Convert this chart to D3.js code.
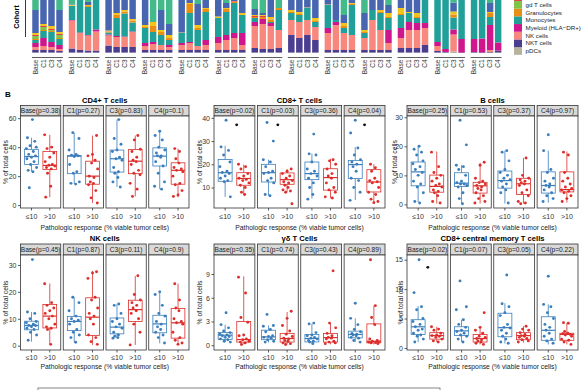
<!DOCTYPE html>
<html>
<head>
<meta charset="utf-8">
<script src="https://cdn.jsdelivr.net/npm/d3@7"></script>
<style>
  body { margin: 0; background: #fff; }
  svg { display: block; font-family: "Liberation Sans", Arial, sans-serif; }
</style>
</head>
<body>
<script>
// ---------- panel A : cell composition per patient / time point ----------
const timepoints = ["Base", "C1", "C3", "C4"];
const patients = ["P01","P02","P03","P04","P05","P06","P07","P08","P09","P10","P11","P12","P13"];
// stacked bottom -> top
const cellTypes = ["pDCs","NKT cells","NK cells","Myeloid (HLA\u2212DR+)","Monocytes","Granulocytes","gd T cells","DCs","CD8+ T cells","CD4+ T cells","B cells"];
const cellColors = ["#b5b39c","#4b3d8f","#f8877e","#cf168c","#21a09a","#e88e16","#7fc447","#e43b4c","#f1c31b","#4866b0","#43ba8a"];

// % per bar, 13 patients x (Base, C1, C3, C4)
const pDCs   = [.5,.5,.5,.5, .5,.5,.5,.5, .5,.5,.5,.5, .5,.5,.5,.5, .5,.5,.5,.5, .5,.5,.5,.5, .5,.5,.5,.5, .5,.5,.5,.5, .5,.5,.5,.5, .5,.5,.5,.5, .5,.5,.5,.5, .5,.5,1.5,0, .5,0,.5,.5];
const nkt    = [2.5,2.5,2.5,1.5, 4,2.5,2,2, 7,5.5,5.5,5.5, 2.5,2.5,2.5,2.5, 2.5,2.5,2.5,2.5, 2.5,2.5,2.5,2.5, 4.5,3.5,3.5,4.5, 17.5,14.5,17.5,12.5, 2.5,2.5,2.5,2.5, 2.5,2.5,2.5,2.5, 4.5,4.5,4.5,7.5, 1.5,.5,0,.5, .5,.5,.5,2];
const nk     = [3,4,3,2, 28,17,15,19, 10,10,10,15, 4,6,5,3, 5,7,4,5, 7,10,12,5, 22,25,23,18, 15,16,15,13, 17,25,17,15, 12,30,20,7, 10,18,18,17, 5,0,17,0, 0,0,2,0];
const myeloid= [4,8,5,4, .5,.5,.5,2, 1,1,.5,.5, 3,2,0,2, 2,1,0,5, 6,5,5,12, 4,5,3,0, 0,0,0,0, 5,3,0,0, 0,0,0,13, 10,8,7,5, 4,3,5,13.5, 13,14,25,8];
const mono   = [3,7,10,6, 14,45,28,40, 2,18,23,9, 15,10,10,5, 10,29,16,28, 19,23,30,18, 4,0,1,20, 7,7,12,5, 23,2,5,30, 5,10,17,12, 13,9,5,35, 60,70,12,60, 60,60,8,60];
const gran   = [1,1,1,1, .5,0,1,0, .5,3,2,2, 1,6,3,2, 0,9,2,3, 0,3,1.5,0, 1,2,2,2, 1,1,0,1, 0,0,2,1.5, 1,0,1,1, 1,0,1,0, 0,0,3,0, 0,0,4,0];
const gdT    = [3,3,1,3, 0,0,0,0, 0,0,0,0, 0,0,0,0, 0,0,0,0, 0,0,0,0, 0,0,0,0, 0,0,0,0, 0,0,0,0, 0,0,0,0, 0,0,0,0, 0,0,0,0, 0,0,0,0];
const dcs    = [1,1,1,1, 0,0,0,0, .5,0,0,0, 0,0,0,0, 0,0,0,0, 0,0,.5,0, 1,1,.5,0, 0,0,0,0, 0,0,0,0, 0,0,0,0, 0,0,0,0, 0,0,0,0, 0,0,0,0];
const cd8    = [2,2,3,2, .5,0,1,0, 1,2,1.5,1.5, 2,4,2,3, .5,1,3,1, 1.5,1,0,2, 1,1,2.5,0, 2,2,.5,3, .5,0,3,.5, 2,0,2,4, 6,1,4,0, 0,0,3,0, 0,0,1,0];
const cd4    = [23,30,35,22, .5,10,3,15, 40,30,30,30, 35,0,20,11, 45,20,21,20, 30,5,20,25, 6,2,30,0, 25,25,25,30, 20,35,8,20, 17,25,25,8, 25,25,25,10, 5,5,9,5, 5,5,9,5];
const bcells = [57,41,38,57, 51.5,24.5,49,21.5, 37.5,30,27,36, 37,69,57,71, 34.5,30,51,35, 33.5,50,28,35, 56,60,34,55, 32,34,29.5,35, 31.5,32,62,30, 60,32,32,52, 30,34,35,25, 24,21,49.5,21, 21,20.5,50,24.5];
const compSeries = [pDCs, nkt, nk, myeloid, mono, gran, gdT, dcs, cd8, cd4, bcells];

// ---------- panel B : boxplots [lo, q1, median, q3, hi] ----------
// order: Base<=10, Base>10, C1<=10, C1>10, C3<=10, C3>10, C4<=10, C4>10
const responseGroups = ["\u226410", ">10"];

const cd4Box = [[23,28,33.5,38.5,46.5],[5.5,24.6,27.4,37,48.5],[14.5,21.7,33.8,34.2,50],[1.5,14.4,20,30.3,48],
                [12.5,22.8,32,38,59],[6,21.7,30.3,38.3,48],[11,27,33.8,39.5,51],[5.5,14.4,24,29.2,39]];
const cd4Pts = [[59,46.5,44,41,40,39,37,35,34,33,32,30,28,26,24,23,12],[48.5,40,39,36,33,30,28,27.5,27,26,25,22,13,5.5],
                [50,46,38,35,34.5,34,33.5,28,23,22,16,15,14.5],[48,35,34,31,29,25,20,19,16,15,14,10,5,1.5],
                [59,46,42,38,37,33,32,31,26,23,22,19,16,12.5],[48,45,38.5,37,33,31,30,28,24,22,21,15,11,6],
                [51,48,45,40,38,36,34,34,33,30,27,22,16,13,11],[39,37,32,29,26,25,24,23,20,15,14,10,7,6]];
const cd4P = ["Base(p=0.38)","C1(p=0.27)","C3(p=0.83)","C4(p=0.1)"];

const cd8Box = [[6,12.7,16.4,22.1,28],[6.7,11,13.9,16.4,19.9],[6.5,12.4,16.4,20,22],[8,11.4,13.4,16.3,18],
                [5.3,13.4,16,21,24.6],[5.3,8.9,14.3,18.1,22.4],[4.6,13.9,19.9,21.7,27.4],[3.1,8.1,12.4,17.7,20]];
const cd8Pts = [[39,27.5,26,24,21,19,17,16.5,16,15,14,13,12.5,6],[20,19,18,16,15,14,13.5,13,12,11,10,8,7],
                [38,30,22,21,19,17,16.5,16,14,13,12,7,6.5],[18,17,16,15,14,13,12.5,12,11,10,9,8.5,8,3],
                [33,24.5,24,21,18,17,16,15,14,12,10,7,5],[22,21.5,20,18,16,15,14,12,10,9,8,6,5.5],
                [39,33.5,27,24,22,21,20,19,17,14,13,10,8,4.5],[20,18.5,17,14,13,12.5,12,10,8,7,5,4,3.5]];
const cd8P = ["Base(p=0.02)","C1(p=0.03)","C3(p=0.36)","C4(p=0.04)"];
const cd8Black = [[0,37,1.62],[1,37,1.5],[3,37,1.5]]; // [time, value, x]

const bBox = [[0.8,6.4,11.2,14.6,19.9],[0.3,4.2,6.2,10.1,18.2],[0.3,6.2,7.3,10.9,13.5],[0.3,3.9,6.4,7.6,14.3],
              [0.3,5.6,8.2,11.5,18.5],[0.3,3.4,7.1,9,16],[0.6,3.9,6.5,11.2,18.5],[0.6,4.3,5.1,11.2,18.2]];
const bPts = [[20,19,18,17,15,14,13,12,11,10,8,7,6,4,1,0.5],[18,13,11,10,9,8,7,6.5,6,5,4.5,4,3,1,0.5],
              [29,20.5,13.5,13,12,10,8,7.5,7,7,6.5,6,4,2,0.2],[14.5,13.5,9,8,7.5,7,6.5,6,5.5,5,4,3,2,1,0.5],
              [18.5,18,15,12,11,10,9,8.5,8,7,6,5,4,0.5],[16,10,9,8.5,8,7.5,7,6.5,5,4,3,1,0.5,0.2],
              [24,18.5,12,11,9,8,7,6.5,6,5,4,3,2,1],[18,17,11,9,8,7,6,5.5,5,4.5,4,3,2,1]];
const bP = ["Base(p=0.25)","C1(p=0.53)","C3(p=0.37)","C4(p=0.97)"];

const nkBox = [[1.5,5.9,7.5,9.1,12.5],[0.6,6.6,11,15.3,23.1],[1.3,5.6,9,10.9,18.1],[0.3,3.8,10.6,17.8,27.8],
               [2.8,4.4,6.9,10.3,15.6],[0.3,9,13.4,16.9,25.9],[0.9,4.8,8.1,11.3,20.4],[0.6,2.8,8.5,13.8,23.1]];
const nkPts = [[32,12.5,12,10,9,8.5,8,7.5,7.5,7,6.5,6,5,4,2],[23,16,15,14,13,12,11,10,8,7,6.5,6,0.5],
               [18,16,13,11,10,9.5,9,8,6,5,4,3,1.3],[27.5,27,25,18,17,14,12,11,10,8,4,3,1.5,0.5],
               [15.5,15,12,10,9,8,7,6.5,5,4,3.5,3,2.8],[26,19,17,16,15,14,13,12,10,8,5,0.3],
               [20,19,15,12,11,9,8,7,6,5,4,3,1],[23,17,14,13,10,9,8.5,8,5,3,2,1,0.5]];
const nkP = ["Base(p=0.45)","C1(p=0.87)","C3(p=0.11)","C4(p=0.9)"];

const gdBox = [[0.4,0.72,1.27,1.6,2.6],[0.1,0.4,0.72,3,8.7],[0.35,0.7,1.06,1.9,2.5],[0.1,0.4,0.85,1.5,4.2],
               [0.2,0.42,0.85,1.35,2.7],[0.1,0.4,0.97,1.5,2.75],[0.4,0.93,1.36,1.78,3.4],[0.1,0.3,0.5,2.7,5]];
const gdPts = [[4.1,2.6,2.2,1.8,1.6,1.4,1.3,1.2,1.1,1,0.8,0.7,0.5,0.4],[8.6,6.6,3.5,2.9,1.3,1.2,0.8,0.7,0.5,0.4,0.3,0.1],
               [3.9,2.5,2.4,2,1.7,1.2,1.1,1,0.9,0.7,0.5,0.4],[4.3,3.4,2.5,1.8,1.4,1.1,0.9,0.8,0.6,0.5,0.3,0.2,0.1],
               [2.8,2.7,1.6,1.3,1.2,1,0.9,0.8,0.6,0.5,0.4,0.2],[9.4,2.8,2.2,1.5,1.2,1,0.9,0.8,0.5,0.4,0.3,0.2],
               [5.3,3.4,2.6,2,1.7,1.5,1.4,1.3,1.2,1,0.9,0.6,0.4],[10.8,5,3.5,2.6,0.8,0.6,0.5,0.45,0.4,0.35,0.3,0.2]];
const gdP = ["Base(p=0.35)","C1(p=0.74)","C3(p=0.43)","C4(p=0.89)"];

const cmBox = [[1,2.3,3.6,4.8,7.1],[1,1.5,2.1,2.6,3.6],[1,2.1,2.9,3.6,4.8],[0.6,1,1.6,2.3,3.6],
               [0.75,1.9,3.45,5.9,7.6],[0.9,1.4,2.1,2.6,3.7],[0.6,1.3,3,5.3,7.4],[0.6,1.3,2.3,2.5,4.2]];
const cmPts = [[15,9.4,7,6.5,5,4.5,4,3.6,3.2,3,2.5,2.2,2,1.5,1],[3.6,3.2,3,2.5,2.2,2.1,2,1.8,1.5,1.2,1],
               [11.4,7,6.5,4.8,4,3.5,3,2.8,2.5,2.2,2,1.5,1],[6,3.5,3,2.5,2,1.8,1.6,1.4,1.2,1,0.8,0.6],
               [12.4,7.5,7,6,5.5,4,3.5,3.4,3,2.5,2,1.5,1,0.8],[3.7,3.2,3,2.6,2.3,2.1,2,1.8,1.6,1.4,1.2,1],
               [12.2,7.4,7,6,5,4,3.5,3,2.5,2,1.5,1.2,0.8],[4.3,4.2,2.8,2.5,2.4,2.3,2.2,2,1.5,1.3,1,0.6]];
const cmP = ["Base(p=0.02)","C1(p=0.07)","C3(p=0.05)","C4(p=0.22)"];
const cmBlack = [[0,13.7,1.52]];

// ---------------------------------------------------------------
const width = 585, height = 390;
const svg = d3.select("body").append("svg")
  .attr("width", width).attr("height", height);

// ---- A: stacked bars ----
const rows = [];
patients.forEach((p, pi) => timepoints.forEach((t, ti) => {
  const r = { patient: p, time: t };
  cellTypes.forEach((c, ci) => r[c] = compSeries[ci][pi * 4 + ti]);
  rows.push(r);
}));
const stacked = d3.stack().keys(cellTypes)(rows);

const xPat = d3.scaleBand().domain(patients).range([32, 501.6]).paddingInner(0.152);
const xTime = d3.scaleBand().domain(timepoints).range([0, xPat.bandwidth()]).paddingInner(0.19).paddingOuter(0.03);
const yComp = d3.scaleLinear().domain([0, 100]).range([53, -47]);
const colorComp = d3.scaleOrdinal().domain(cellTypes).range(cellColors);

const gA = svg.append("g");
gA.selectAll("g.layer").data(stacked).join("g")
  .attr("fill", d => colorComp(d.key))
  .selectAll("rect").data(d => d).join("rect")
  .attr("x", d => xPat(d.data.patient) + xTime(d.data.time))
  .attr("width", xTime.bandwidth())
  .attr("y", d => yComp(d[1]))
  .attr("height", d => yComp(d[0]) - yComp(d[1]));

// per patient axis line + labels
patients.forEach(p => {
  const g = gA.append("g").attr("transform", `translate(${xPat(p)},0)`);
  g.append("line").attr("x1", 0).attr("x2", xPat.bandwidth())
    .attr("y1", 57.5).attr("y2", 57.5).attr("stroke", "#333").attr("stroke-width", 0.8);
  timepoints.forEach(t => {
    const cx = xTime(t) + xTime.bandwidth() / 2;
    g.append("text")
      .attr("transform", `translate(${cx},59.5) rotate(-90)`)
      .attr("text-anchor", "end").attr("dy", "0.35em")
      .attr("font-size", 6.5).attr("fill", "#333").text(t);
  });
});

// cohort label
gA.append("text").attr("transform", "translate(19,17) rotate(-90)")
  .attr("text-anchor", "middle").attr("font-size", 7.2).attr("font-weight", "bold").text("Cohort");
gA.append("line").attr("x1", 25.5).attr("x2", 25.5).attr("y1", -2).attr("y2", 37)
  .attr("stroke", "#222").attr("stroke-width", 0.9);

// legend (the upper keys fall outside the frame, as in the cropped figure)
const legend = gA.append("g");
cellTypes.forEach((c, k) => {
  const yc = 51 - k * 7.7;
  legend.append("rect").attr("x", 514).attr("y", yc - 3.85).attr("width", 8).attr("height", 7.7)
    .attr("fill", colorComp(c));
  if (yc > 2) {
    legend.append("text").attr("x", 525.5).attr("y", yc).attr("dy", "0.35em")
      .attr("font-size", 6.2).attr("fill", "#222").text(c);
  }
});

// ---- B ----
svg.append("text").attr("x", 5).attr("y", 97).attr("font-size", 8).attr("font-weight", "bold").text("B");

const rowLayout = [
  { titleY: 103, stripTop: 105.5, stripH: 10.5, top: 116, bot: 208, tickY: 217, axisY: 228 },
  { titleY: 240.5, stripTop: 244, stripH: 11, top: 255, bot: 350, tickY: 357.5, axisY: 366.5 }
];

const facets = [
  { title: "CD4+ T cells", box: cd4Box, pts: cd4Pts, strips: cd4P, dom: [-2, 61.5], ticks: [0, 20, 40, 60], L: 20.5, R: 189, row: 0, tx: 6, black: [] },
  { title: "CD8+ T cells", box: cd8Box, pts: cd8Pts, strips: cd8P, dom: [1.2, 40.8], ticks: [10, 20, 30, 40], L: 214, R: 385, row: 0, tx: 200, black: cd8Black },
  { title: "B cells", box: bBox, pts: bPts, strips: bP, dom: [-1.24, 30.44], ticks: [0, 10, 20, 30], L: 407, R: 578, row: 0, tx: 395, black: [] },
  { title: "NK cells", box: nkBox, pts: nkPts, strips: nkP, dom: [-1.6, 33.7], ticks: [0, 10, 20, 30], L: 20.5, R: 189, row: 1, tx: 6, black: [] },
  { title: "\u03b3\u03b4 T Cells", box: gdBox, pts: gdPts, strips: gdP, dom: [-0.6, 11.4], ticks: [0, 3, 6, 9], L: 214, R: 385, row: 1, tx: 200, black: [] },
  { title: "CD8+ central memory T cells", box: cmBox, pts: cmPts, strips: cmP, dom: [-0.35, 15.8], ticks: [0, 5, 10, 15], L: 407, R: 578, row: 1, tx: 401, black: cmBlack }
];

const groupColors = ["#3b7ebb", "#dc2f2c"];
const jit = [0.05, -0.22, 0.18, -0.08, 0.26, -0.28, 0.1, -0.15, 0.22, 0, -0.25, 0.14, -0.05, 0.28, -0.18, 0.08, -0.12];
const gap = 2.5;

facets.forEach(f => {
  const lay = rowLayout[f.row];
  const g = svg.append("g");
  const pw = (f.R - f.L - 3 * gap) / 4;
  const y = d3.scaleLinear().domain(f.dom).range([lay.bot, lay.top]);

  g.append("text").attr("x", (f.L + f.R) / 2).attr("y", lay.titleY)
    .attr("text-anchor", "middle").attr("font-size", 7.6).attr("font-weight", "bold").text(f.title);

  timepoints.forEach((t, ti) => {
    const px = f.L + ti * (pw + gap);
    const x = d3.scaleLinear().domain([0.4, 2.6]).range([px, px + pw]);
    const unit = pw / 2.2;

    // strip
    g.append("rect").attr("x", px).attr("y", lay.stripTop).attr("width", pw).attr("height", lay.stripH)
      .attr("fill", "#d9d9d9").attr("stroke", "#333").attr("stroke-width", 0.8);
    g.append("text").attr("x", px + pw / 2).attr("y", lay.stripTop + lay.stripH / 2).attr("dy", "0.35em")
      .attr("text-anchor", "middle").attr("font-size", 6.6).attr("fill", "#1a1a1a").text(f.strips[ti]);

    // panel
    g.append("rect").attr("x", px).attr("y", lay.top).attr("width", pw).attr("height", lay.bot - lay.top)
      .attr("fill", "#fff").attr("stroke", "#333").attr("stroke-width", 0.8);

    responseGroups.forEach((rg, gi) => {
      const k = ti * 2 + gi;
      const [lo, q1, med, q3, hi] = f.box[k];
      const cx = x(gi + 1);
      const bw = 0.75 * unit;
      const col = groupColors[gi];
      g.append("line").attr("x1", cx).attr("x2", cx).attr("y1", y(hi)).attr("y2", y(q3))
        .attr("stroke", col).attr("stroke-width", 0.8);
      g.append("line").attr("x1", cx).attr("x2", cx).attr("y1", y(q1)).attr("y2", y(lo))
        .attr("stroke", col).attr("stroke-width", 0.8);
      g.append("rect").attr("x", cx - bw / 2).attr("y", y(q3)).attr("width", bw).attr("height", y(q1) - y(q3))
        .attr("fill", "none").attr("stroke", col).attr("stroke-width", 0.8);
      g.append("line").attr("x1", cx - bw / 2).attr("x2", cx + bw / 2).attr("y1", y(med)).attr("y2", y(med))
        .attr("stroke", col).attr("stroke-width", 1.2);
      g.selectAll(null).data(f.pts[k]).join("circle")
        .attr("cx", (d, i) => cx + jit[(i + gi * 5 + ti * 3) % jit.length] * unit)
        .attr("cy", d => y(d)).attr("r", 1.45).attr("fill", col);

      // x tick + label
      g.append("line").attr("x1", cx).attr("x2", cx).attr("y1", lay.bot).attr("y2", lay.bot + 2.5)
        .attr("stroke", "#333").attr("stroke-width", 0.8);
      g.append("text").attr("x", cx).attr("y", lay.tickY).attr("dy", "0.35em")
        .attr("text-anchor", "middle").attr("font-size", 7).attr("fill", "#333").text(rg);
    });

    f.black.filter(b => b[0] === ti).forEach(b => {
      g.append("circle").attr("cx", x(b[2])).attr("cy", y(b[1])).attr("r", 1.45).attr("fill", "#111");
    });
  });

  // y axis
  const yAxis = d3.axisLeft(y).tickValues(f.ticks).tickSize(2.5).tickPadding(1.5);
  const ga = g.append("g").attr("transform", `translate(${f.L},0)`).call(yAxis);
  ga.select(".domain").remove();
  ga.selectAll("line").attr("stroke", "#333").attr("stroke-width", 0.8);
  ga.selectAll("text").attr("font-size", 7).attr("fill", "#333").attr("font-family", "Liberation Sans, Arial, sans-serif");

  g.append("text").attr("transform", `translate(${f.tx},${(lay.top + lay.bot) / 2}) rotate(-90)`)
    .attr("text-anchor", "middle").attr("dy", "0.35em").attr("font-size", 6.8).attr("fill", "#222")
    .text("% of total cells");

  g.append("text").attr("x", (f.L + f.R) / 2).attr("y", lay.axisY).attr("dy", "0.35em")
    .attr("text-anchor", "middle").attr("font-size", 6.8).attr("fill", "#222")
    .text("Pathologic response (% viable tumor cells)");
});

// partially visible legend frame at the bottom
svg.append("rect").attr("x", 38).attr("y", 388).attr("width", 402).attr("height", 20)
  .attr("fill", "none").attr("stroke", "#666").attr("stroke-width", 0.8);
</script>
</body>
</html>
